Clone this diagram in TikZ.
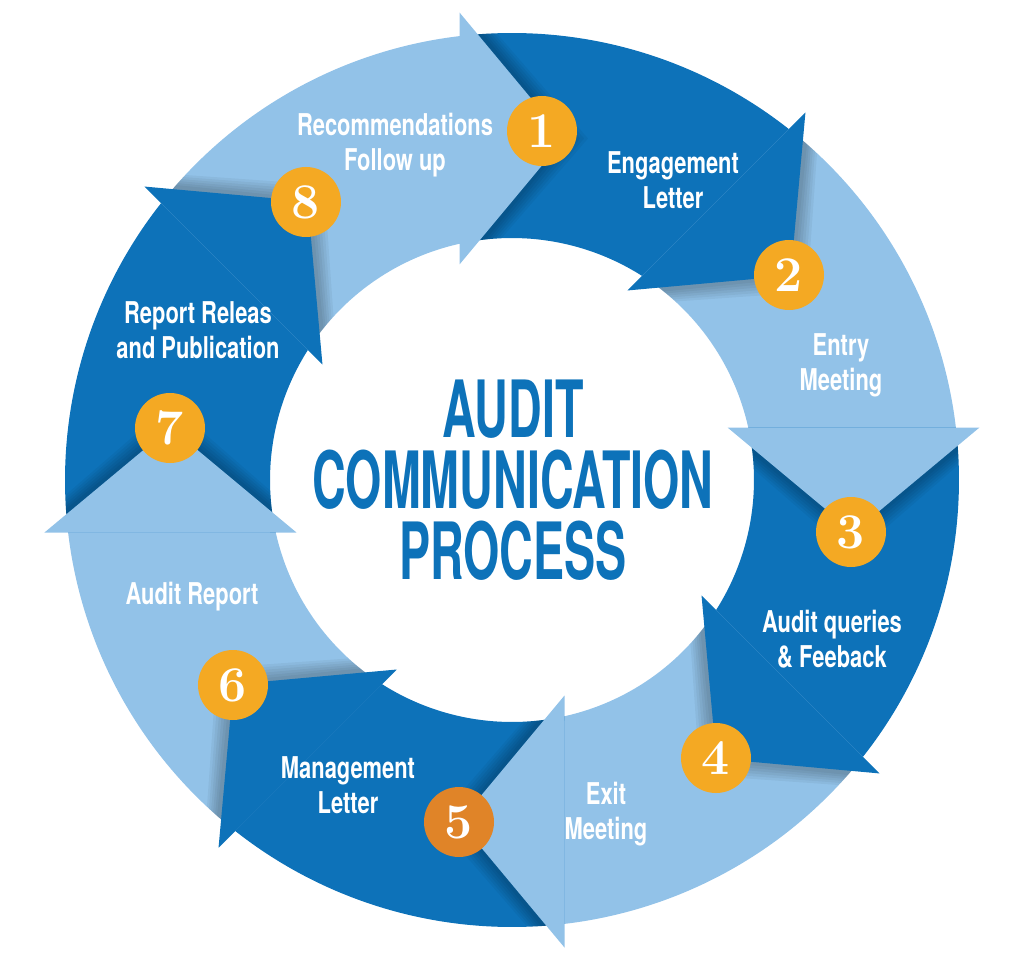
\documentclass[tikz,border=0pt]{standalone}
\usepackage{fontspec}
\usepackage{tikz}
\newfontfamily\labelfont[FakeStretch=0.73]{TeX Gyre Heros}
\newfontfamily\titlefont[FakeStretch=0.59]{TeX Gyre Heros}
\definecolor{darkblue}{RGB}{13,114,185}
\definecolor{lightblue}{RGB}{146,194,232}
\definecolor{dotorange}{RGB}{244,169,35}
\definecolor{dotdark}{RGB}{224,132,40}

\begin{document}
\begin{tikzpicture}[x=1pt,y=1pt,
    steplabel/.style={text=white,align=center,font=\labelfont\bfseries\fontsize{30}{35}\selectfont},
    numdot/.style={circle,fill=#1,minimum size=70pt,inner sep=0pt,text=white,font=\bfseries\fontsize{50}{50}\selectfont}]
      \useasboundingbox (-512,-481) rectangle (512,480);

      % ring pieces, one per step
      \foreach \k in {1,...,8} {
        \pgfmathsetmacro{\b}{90-45*\k}
        \pgfmathsetmacro{\a}{\b+45}
        \ifodd\k \def\col{darkblue}\else \def\col{lightblue}\fi
        \fill[\col] ({\a+6.74}:447) arc[start angle=\a+6.74, end angle=\b+6.55, radius=447]
          -- ({\b+12.17}:242) arc[start angle=\b+12.17, end angle=\a+12.53, radius=242] -- cycle;
      }

      % heads on top of the next piece, with a soft shadow
      \foreach \k in {1,...,8} {
        \pgfmathsetmacro{\b}{90-45*\k}
        \ifodd\k \def\col{darkblue}\else \def\col{lightblue}\fi
        \begin{scope}[even odd rule]
          \clip (0,0) circle[radius=447] (0,0) circle[radius=242];
          \foreach \s in {3,6,...,18}
            \fill[black, opacity=0.045, rotate=\b] (215.5-\s,49) -- (467.5+\s,49) -- (341.5,-52.5-1.3*\s) -- cycle;
        \end{scope}
        \fill[\col, rotate=\b] (215.5,52.5) -- (467.5,52.5) -- (341.5,-52.5) -- cycle;
      }

      % numbers
      \foreach \n/\x/\y/\c in {1/30/349/dotorange, 2/277/205/dotorange, 3/339/-52/dotorange,
          4/204/-278/dotorange, 5/-53/-342/dotdark, 6/-279/-205/dotorange,
          7/-342/52/dotorange, 8/-206/278/dotorange}
        \node[numdot=\c] (dot\n) at (\x,\y) {\n};

      \node[steplabel] (lab1) at (161,300) {Engagement\\Letter};
      \node[steplabel] (lab2) at (329,115) {Entry\\Meeting};
      \node[steplabel] (lab3) at (320,-159) {Audit queries\\\& Feeback};
      \node[steplabel] (lab4) at (94,-334) {Exit\\Meeting};
      \node[steplabel] (lab5) at (-164,-305) {Management\\Letter};
      \node[steplabel] (lab6) at (-320,-117) {Audit Report};
      \node[steplabel] (lab7) at (-314,150) {Report Releas\\and Publication};
      \node[steplabel] (lab8) at (-117,335) {Recommendations\\Follow up};

      \node[text=darkblue,align=center,font=\titlefont\bfseries\fontsize{79}{71}\selectfont] (title) at (1,0) {AUDIT\\COMMUNICATION\\PROCESS};
    \end{tikzpicture}
\end{document}
